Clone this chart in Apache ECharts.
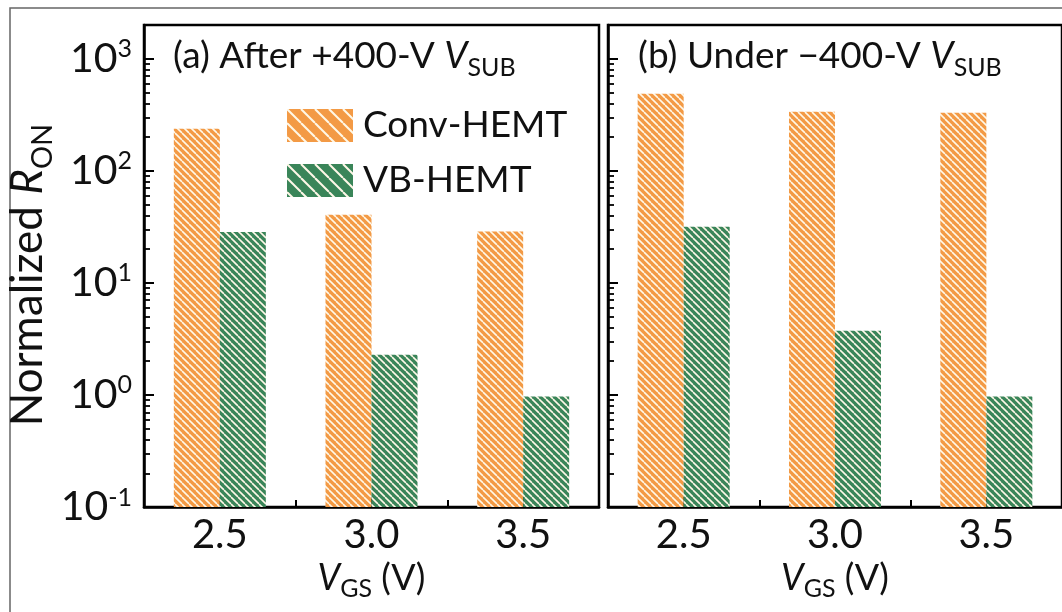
<!DOCTYPE html>
<html>
<head>
    <meta charset="UTF-8">
    <title>Normalized RON vs VGS</title>
    <script src="https://cdn.jsdelivr.net/npm/echarts@6.0.0/dist/echarts.min.js"></script>
    <style>
        html, body { margin: 0; padding: 0; background: #fff; }
        #chart { width: 1062px; height: 612px; }
    </style>
</head>
<body>
    <div id="chart"></div>
    <script type="text/javascript">

        // values
        const vgsLabels = ['2.5', '3.0', '3.5'];
        const convAfterPos = [237, 40.5, 28.8];   // (a) after +400 V
        const vbAfterPos = [28.5, 2.28, 0.97];
        const convUnderNeg = [487, 336, 330];     // (b) under -400 V
        const vbUnderNeg = [31.6, 3.73, 0.97];

        const yMajorTicks = [0.1, 1, 10, 100, 1000];
        const yMinorTicks = [0.2, 0.3, 0.4, 0.5, 0.6, 0.7, 0.8, 0.9,
                             2, 3, 4, 5, 6, 7, 8, 9,
                             20, 30, 40, 50, 60, 70, 80, 90,
                             200, 300, 400, 500, 600, 700, 800, 900];

        const FONT = 'Lato';
        const ORANGE = '#F39A45';
        const GREEN = '#3A8559';
        const BAR_W = 46;
        const Y_MIN = 0.1;

        // diagonal "\" hatch, white lines on a flat colour
        function makeHatch(bg, step, lw) {
            var c = document.createElement('canvas');
            c.width = step;
            c.height = step;
            var ctx = c.getContext('2d');
            ctx.fillStyle = bg;
            ctx.fillRect(0, 0, step, step);
            ctx.strokeStyle = '#FFF8E8';
            ctx.lineWidth = lw;
            for (var k = -1; k <= 1; k++) {
                ctx.beginPath();
                ctx.moveTo(k * step, 0);
                ctx.lineTo(k * step + step, step);
                ctx.stroke();
            }
            return { image: c, repeat: 'repeat' };
        }

        var barOrange = makeHatch(ORANGE, 7, 1.6);
        var barGreen = makeHatch(GREEN, 7, 1.6);
        var legOrange = makeHatch(ORANGE, 14, 2);
        var legGreen = makeHatch(GREEN, 14, 2);

        var titleRich = {
            n: { fontFamily: FONT, fontSize: 37, lineHeight: 48, fontWeight: 'normal', color: '#111' },
            i: { fontFamily: FONT, fontSize: 37, lineHeight: 48, fontWeight: 'normal', fontStyle: 'italic', color: '#111' },
            sub: { fontFamily: FONT, fontSize: 25, lineHeight: 25, fontWeight: 'normal', verticalAlign: 'bottom', color: '#111' }
        };
        var xNameRich = {
            n: { fontFamily: FONT, fontSize: 36, lineHeight: 48, color: '#111' },
            i: { fontFamily: FONT, fontSize: 36, lineHeight: 48, fontStyle: 'italic', color: '#111' },
            sub: { fontFamily: FONT, fontSize: 25, lineHeight: 25, verticalAlign: 'bottom', color: '#111' }
        };

        function supLabel(v) {
            return '{b|10}{s|' + Math.round(Math.log10(v)) + '}';
        }

        // right panel runs a little past the picture edge, like the reference
        var gridBoxes = [
            { left: 144, top: 25, width: 455, height: 482 },
            { left: 608, top: 25, width: 457, height: 482 }
        ];

        var grids = gridBoxes.map(function (g) {
            return {
                left: g.left, top: g.top, width: g.width, height: g.height,
                show: true, borderColor: '#000', borderWidth: 2.5,
                backgroundColor: 'transparent'
            };
        });

        var xAxes = [];
        var yAxes = [];
        [0, 1].forEach(function (gi) {
            // main category axis: long ticks at the labels
            xAxes.push({
                type: 'category', gridIndex: gi, data: vgsLabels, position: 'bottom',
                axisLine: { show: true, lineStyle: { color: '#000', width: 2.5 } },
                axisTick: { show: true, alignWithLabel: true, inside: true, length: 10, lineStyle: { color: '#000', width: 2 } },
                axisLabel: { fontFamily: FONT, fontSize: 40, color: '#111', margin: 8 },
                name: '{i|V}{sub|GS}{n| (V)}',
                nameLocation: 'middle', nameGap: 36,
                nameTextStyle: { rich: xNameRich }
            });
            // short ticks between categories
            xAxes.push({
                type: 'category', gridIndex: gi, data: vgsLabels, position: 'bottom',
                axisLine: { show: false },
                axisTick: { show: true, inside: true, length: 7, lineStyle: { color: '#000', width: 2 } },
                axisLabel: { show: false }
            });
            yAxes.push({
                type: 'log', gridIndex: gi, min: Y_MIN, max: 2000, logBase: 10, position: 'left',
                axisLine: { show: true, lineStyle: { color: '#000', width: 2.5 } },
                axisTick: { show: true, inside: true, length: 10, customValues: yMajorTicks, lineStyle: { color: '#000', width: 2 } },
                axisLabel: {
                    show: gi === 0, customValues: yMajorTicks, margin: 12,
                    formatter: supLabel,
                    rich: {
                        b: { fontFamily: FONT, fontSize: 41, color: '#111', lineHeight: 44 },
                        s: { fontFamily: FONT, fontSize: 25, color: '#111', verticalAlign: 'top', lineHeight: 26 }
                    }
                },
                splitLine: { show: false },
                name: gi === 0 ? '{n|Normalized }{i|R}{sub|ON}' : '',
                nameLocation: 'middle', nameGap: 84,
                nameTextStyle: {
                    padding: [0, 18, 0, 0],
                    rich: {
                        n: { fontFamily: FONT, fontSize: 44, lineHeight: 58, color: '#111' },
                        i: { fontFamily: FONT, fontSize: 44, lineHeight: 58, fontStyle: 'italic', color: '#111' },
                        sub: { fontFamily: FONT, fontSize: 29, lineHeight: 29, verticalAlign: 'bottom', color: '#111' }
                    }
                }
            });
            // minor ticks 2..9 of each decade
            yAxes.push({
                type: 'log', gridIndex: gi, min: Y_MIN, max: 2000, logBase: 10, position: 'left',
                axisLine: { show: false },
                axisTick: { show: true, inside: true, length: 6, customValues: yMinorTicks, lineStyle: { color: '#000', width: 1.8 } },
                axisLabel: { show: false },
                splitLine: { show: false }
            });
        });

        // bars drawn from the bottom of the log axis (0.1) up to the value
        function barSeries(name, values, gi, color, offset) {
            return {
                name: name, type: 'custom',
                xAxisIndex: gi * 2, yAxisIndex: gi * 2,
                data: values.map(function (v, i) { return [i, v]; }),
                encode: { x: 0, y: 1 },
                itemStyle: { color: color },
                renderItem: function (params, api) {
                    var top = api.coord([api.value(0), api.value(1)]);
                    var base = api.coord([api.value(0), Y_MIN]);
                    return {
                        type: 'rect',
                        shape: { x: top[0] + offset, y: top[1], width: BAR_W, height: base[1] - top[1] },
                        style: { fill: color }
                    };
                },
                animation: false
            };
        }

        var option = {
            backgroundColor: '#fff',
            animation: false,
            title: [
                {
                    text: '{n|(a) After +400-V }{i|V}{sub|SUB}',
                    left: 173, top: 32, padding: 0,
                    textStyle: { fontWeight: 'normal', rich: titleRich }
                },
                {
                    text: '{n|(b) Under \u2212400-V }{i|V}{sub|SUB}',
                    left: 638, top: 32, padding: 0,
                    textStyle: { fontWeight: 'normal', rich: titleRich }
                }
            ],
            legend: {
                left: 287, top: 107, orient: 'vertical', padding: 0,
                itemWidth: 66, itemHeight: 33, itemGap: 18,
                icon: 'rect',
                textStyle: { fontFamily: FONT, fontSize: 37, color: '#111', padding: [0, 0, 0, 5] },
                data: [
                    { name: 'Conv-HEMT', itemStyle: { color: legOrange } },
                    { name: 'VB-HEMT', itemStyle: { color: legGreen } }
                ]
            },
            graphic: [
                {
                    type: 'rect', silent: true, z: -1,
                    shape: { x: 10, y: 8, width: 1100, height: 700 },
                    style: { fill: 'none', stroke: '#666', lineWidth: 1.5 }
                }
            ],
            grid: grids,
            xAxis: xAxes,
            yAxis: yAxes,
            series: [
                barSeries('Conv-HEMT', convAfterPos, 0, barOrange, -BAR_W),
                barSeries('VB-HEMT', vbAfterPos, 0, barGreen, 0),
                barSeries('Conv-HEMT', convUnderNeg, 1, barOrange, -BAR_W),
                barSeries('VB-HEMT', vbUnderNeg, 1, barGreen, 0)
            ]
        };

        var chart = echarts.init(document.getElementById('chart'), null, { renderer: 'canvas' });
        chart.setOption(option);
    </script>
</body>
</html>
